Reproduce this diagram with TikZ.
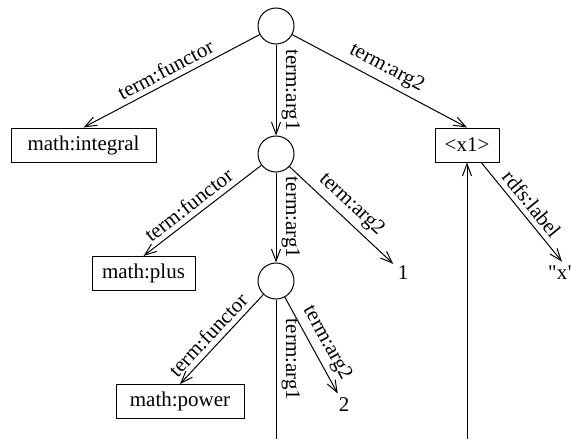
\documentclass[tikz,border=0pt]{standalone}
\usepackage{fontspec}
\setmainfont{Liberation Serif}[Ligatures=TeXOff]
\usetikzlibrary{arrows.meta,positioning}

\begin{document}
\begin{tikzpicture}[x=0.5pt,y=-0.5pt,>={Straight Barb[length=6pt,width=4.5pt]},on grid,
		line width=0.5pt,font=\fontsize{10.5}{12}\selectfont,
		blank/.style={draw,circle,minimum size=18pt,inner sep=0pt},
		res/.style={draw,rectangle,minimum height=17pt,inner sep=0pt},
		lit/.style={inner sep=2pt},
		lbl/.style={sloped,above,inner sep=2.5pt}]
		\useasboundingbox (0,0) rectangle (571,439);
		\node[blank] (r0) at (276,26) {};
		\node[blank] (r1) [below=64pt of r0] {};
		\node[blank] (r2) [below=63.5pt of r1] {};
		\node[res,minimum width=72.5pt] (integral) [below left=59.5pt and 96.25pt of r0] {math:integral};
		\node[res,minimum width=32pt] (x1) [below right=59.5pt and 95.5pt of r0] {<x1>};
		\node[res,minimum width=51.5pt] (plus) [below left=59.75pt and 66.25pt of r1] {math:plus};
		\node[lit] (one) [below right=59.5pt and 63.5pt of r1] {1};
		\node[res,minimum width=64pt] (power) [below left=60.25pt and 48pt of r2] {math:power};
		\node[lit] (two) [below right=62pt and 34pt of r2] {2};
		\node[lit] (xval) [below right=64pt and 47.5pt of x1] {"x"};
		\node[coordinate] (end2) [below=79pt of r2] {};
		\node[coordinate] (endx) [below=147pt of x1] {};

		\path[->]
		(r0) edge node[lbl] {term:functor} (integral.north)
		(r0) edge node[lbl] {term:arg1} (r1)
		(r0) edge node[lbl] {term:arg2} (x1.north)
		(r1) edge node[lbl,pos=.55] {term:functor} (plus.north)
		(r1) edge node[lbl] {term:arg1} (r2)
		(r1) edge node[lbl] {term:arg2} (one)
		(r2) edge node[lbl,pos=.55] {term:functor} (power.north)
		(r2) edge[-] node[lbl,pos=.43] {term:arg1} (end2)
		(r2) edge node[lbl,pos=.55] {term:arg2} (two)
		(x1) edge node[lbl] {rdfs:label} (xval.north)
		(endx) edge (x1)
		;
	\end{tikzpicture}
\end{document}
